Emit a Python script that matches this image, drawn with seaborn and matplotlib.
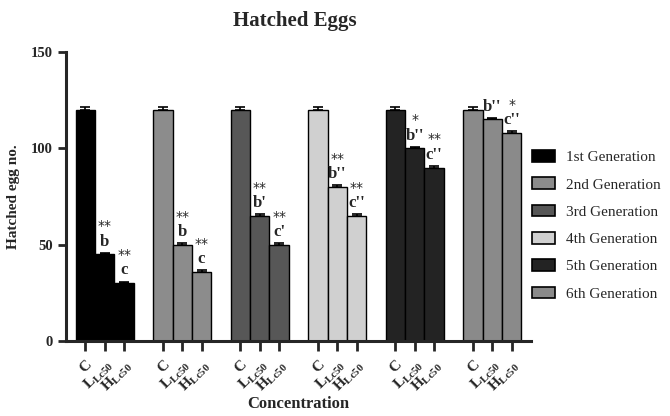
import numpy as np
import pandas as pd
import matplotlib
matplotlib.use("Agg")
import matplotlib.pyplot as plt
from matplotlib.patches import Patch
import seaborn as sns

# ---- data ----
generations = ["1st Generation", "2nd Generation", "3rd Generation",
               "4th Generation", "5th Generation", "6th Generation"]
treatments = ["C", "L", "H"]
control = [120, 120, 120, 120, 120, 120]
low_lc50 = [45, 50, 65, 80, 100, 115]
high_lc50 = [30, 36, 50, 65, 90, 108]
sem_control = [1.5, 1.5, 1.5, 1.5, 1.5, 1.5]
sem_low = [0.8, 0.8, 0.8, 0.8, 0.8, 0.8]
sem_high = [0.8, 0.8, 0.8, 0.8, 0.8, 0.8]
letters_low = ["b", "b", "b'", "b''", "b''", "b''"]
letters_high = ["c", "c", "c'", "c''", "c''", "c''"]
stars_low = ["**", "**", "**", "**", "*", ""]
stars_high = ["**", "**", "**", "**", "**", "*"]
tick_labels = ["C", r"L$_{\mathregular{Lc50}}$", r"H$_{\mathregular{Lc50}}$"]
colors = ["#000000", "#8c8c8c", "#575757", "#d0d0d0", "#232323", "#8a8a8a"]

# ---- long table: each generation block of three bars, one slot gap between blocks ----
rows = []
for g, gen in enumerate(generations):
    vals = [control[g], low_lc50[g], high_lc50[g]]
    errs = [sem_control[g], sem_low[g], sem_high[g]]
    for j, t in enumerate(treatments):
        rows.append({"pos": g * 4 + j, "Generation": gen, "Treatment": t,
                     "value": vals[j], "sem": errs[j]})
df = pd.DataFrame(rows)

sns.set_style("ticks")
plt.rcParams["font.family"] = ["Liberation Serif", "DejaVu Serif"]
plt.rcParams["mathtext.fontset"] = "custom"
plt.rcParams["mathtext.rm"] = "Liberation Serif:bold"
plt.rcParams["mathtext.it"] = "Liberation Serif:bold"
plt.rcParams["mathtext.bf"] = "Liberation Serif:bold"

fig = plt.figure(figsize=(6.7, 4.16), dpi=100)
ax = fig.add_axes([0.0985, 0.18, 0.694, 0.695])

sns.barplot(data=df, x="pos", y="value", hue="Generation", hue_order=generations,
            palette=colors, native_scale=True, dodge=False, width=1.0,
            errorbar=None, edgecolor="black", linewidth=1.0, legend=False, ax=ax)

# upper error caps
ax.errorbar(df["pos"], df["value"], yerr=[np.zeros(len(df)), df["sem"]],
            fmt="none", ecolor="black", elinewidth=1.2, capsize=3.5, capthick=1.2)

# significance letters and stars
for g in range(len(generations)):
    xl, xh = g * 4 + 1, g * 4 + 2
    ax.text(xl, low_lc50[g] + 2.5, letters_low[g], ha="center", va="bottom",
            fontsize=12, fontweight="bold")
    ax.text(xh, high_lc50[g] + 2.5, letters_high[g], ha="center", va="bottom",
            fontsize=12, fontweight="bold")
    if stars_low[g]:
        ax.text(xl, low_lc50[g] + 11, stars_low[g], ha="center", va="bottom",
                fontsize=10, family="DejaVu Sans")
    if stars_high[g]:
        ax.text(xh, high_lc50[g] + 11, stars_high[g], ha="center", va="bottom",
                fontsize=10, family="DejaVu Sans")

ax.set_xlim(-1, 23)
ax.set_ylim(0, 150)
ax.set_yticks([0, 50, 100, 150])
ax.set_yticklabels(["0", "50", "100", "150"], fontweight="bold", fontsize=10.5)
ax.set_xticks(df["pos"])
ax.set_xticklabels(tick_labels * len(generations), rotation=45, ha="right",
                   rotation_mode="anchor", fontweight="bold", fontsize=11)
ax.tick_params(axis="both", width=2, length=6, direction="out")
ax.tick_params(axis="x", length=7, pad=5)
for side in ["left", "bottom"]:
    ax.spines[side].set_linewidth(2.2)
sns.despine(ax=ax)

ax.set_ylabel("Hatched egg no.", fontsize=11, fontweight="bold", labelpad=8)
ax.set_xlabel("Concentration", fontsize=12, fontweight="bold", va="center")
ax.xaxis.set_label_coords(0.5, -0.218)
fig.text(0.44, 0.95, "Hatched Eggs", ha="center", va="center",
         fontsize=15, fontweight="bold")

handles = [Patch(facecolor=c, edgecolor="black", linewidth=1.2) for c in colors]
ax.legend(handles, generations, loc="center left", bbox_to_anchor=(1.002, 0.40),
          frameon=False, fontsize=11, handlelength=1.5, handleheight=0.8,
          labelspacing=0.86, handletextpad=0.7, borderaxespad=0, borderpad=0)

fig.savefig("out.png", dpi=100)
